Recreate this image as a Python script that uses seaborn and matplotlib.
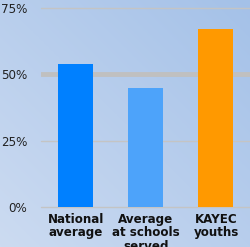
import numpy as np
import pandas as pd
import matplotlib
matplotlib.use("Agg")
import matplotlib.pyplot as plt
import seaborn as sns
from matplotlib.colors import LinearSegmentedColormap

categories = ["National\naverage", "Average\nat schools\nserved", "KAYEC\nyouths"]
values = [54, 45, 67]
colors = ["#0080ff", "#4da3fa", "#ff9900"]
yticks = [0, 25, 50, 75]
ytick_labels = ["0%", "25%", "50%", "75%"]

sns.set_theme(style="white")
plt.rcParams['font.family'] = ['DejaVu Sans']

fig = plt.figure(figsize=(2.51, 2.47), dpi=100)

# gradient background
bg = fig.add_axes([0, 0, 1, 1], zorder=0)
yy, xx = np.mgrid[0:1:200j, 0:1:200j]
grad = (xx + yy) / 2
cmap = LinearSegmentedColormap.from_list("bg", ["#ccdbf1", "#a4c1e8"])
bg.imshow(grad, cmap=cmap, origin="lower", extent=[0, 1, 0, 1], aspect="auto")
bg.set_axis_off()

ax = fig.add_axes([0.163, 0.162, 0.837, 0.81], zorder=1)
ax.patch.set_alpha(0)

df = pd.DataFrame({"cat": categories, "val": values})
sns.barplot(data=df, x="cat", y="val", hue="cat", palette=colors, width=0.5,
            legend=False, ax=ax, saturation=1, zorder=3, linewidth=0)

for y in [0, 25, 75]:
    ax.axhline(y, color="#c4c4c4", lw=1, zorder=1, clip_on=False)
ax.axhline(50, color="#c0c0c0", lw=3.5, zorder=1)

ax.set_xlim(-0.5, 2.5)
ax.set_ylim(0, 75.5)
ax.set_yticks(yticks)
ax.set_yticklabels(ytick_labels, fontsize=8.6, color="#222222")
ax.tick_params(axis="y", length=0, pad=10)
ax.tick_params(axis="x", length=0, pad=4)
for lbl in ax.get_xticklabels():
    lbl.set_fontweight("bold")
    lbl.set_fontsize(8.6)
    lbl.set_color("#111111")
    lbl.set_linespacing(1.05)
ax.set_xlabel("")
ax.set_ylabel("")
for s in ax.spines.values():
    s.set_visible(False)

fig.savefig("out.png", dpi=100)
